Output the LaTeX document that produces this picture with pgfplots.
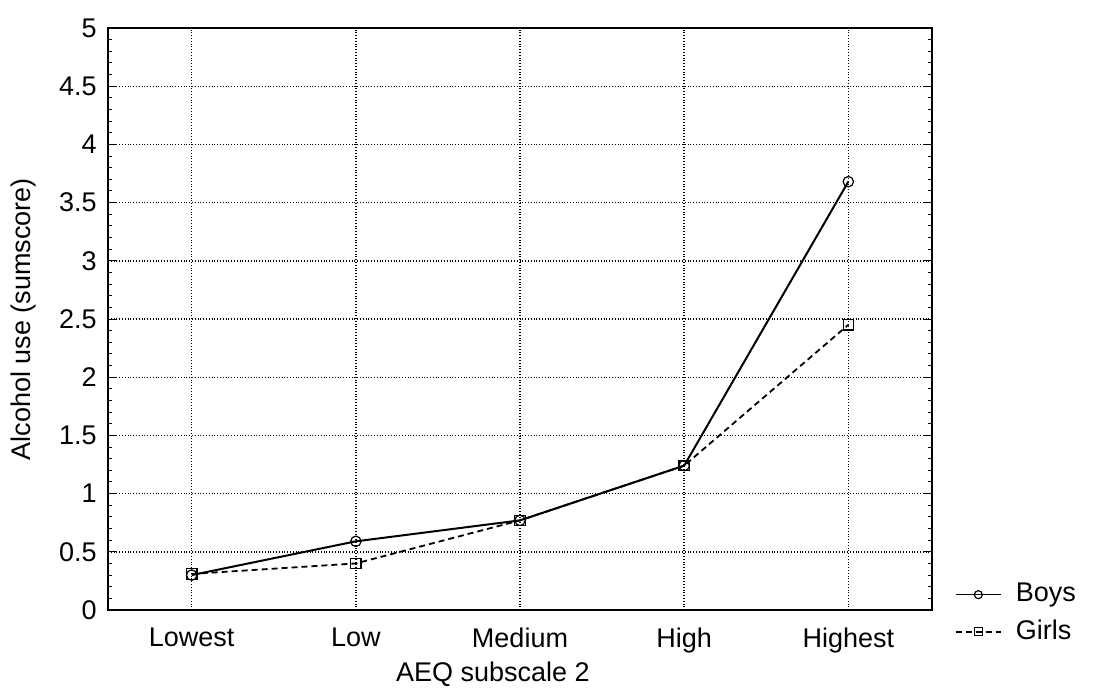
\documentclass[border=0pt]{standalone}
\usepackage{fontspec}
\setmainfont{Liberation Sans}
\usepackage{pgfplots}
\pgfplotsset{compat=1.18}
\begin{document}
\fontsize{13.5}{16}\selectfont
\begin{tikzpicture}
\useasboundingbox (-54pt,-40pt) rectangle (499.5pt,305pt);
\begin{axis}[
  at={(0,0)}, anchor=south west,
  scale only axis, width=412pt, height=291pt,
  xmin=-0.51, xmax=4.51, ymin=0, ymax=5,
  xtick={0,1,2,3,4},
  xticklabels={Lowest,Low,Medium,High,Highest},
  ytick={0,0.5,1,1.5,2,2.5,3,3.5,4,4.5,5},
  yticklabels={0,0.5,1,1.5,2,2.5,3,3.5,4,4.5,5},
  minor y tick num=4,
  tick align=inside,
  major tick length=4pt, minor tick length=2pt,
  x tick style={draw=none},
  ytick pos=both,
  grid=major,
  major grid style={densely dotted, black, line width=0.7pt},
  axis line style={line width=0.9pt},
  tick style={black, line width=0.5pt},
  /pgf/number format/assume math mode=true,
  tick label style={font=\fontsize{13.5}{16}\selectfont},
  xticklabel style={yshift=-4.5pt},
  yticklabel style={xshift=-1pt},
  label style={font=\fontsize{13.5}{16}\selectfont},
  xlabel={AEQ subscale 2},
  ylabel={Alcohol use (sumscore)},
  xlabel style={at={(axis description cs:0.467,-0.11)}, anchor=center},
  ylabel style={at={(axis description cs:-0.102,0.5)}, anchor=center},
  legend style={draw=none, fill=none, at={(axis description cs:1.02,-0.006)}, anchor=west,
    font=\fontsize{13.5}{16}\selectfont, row sep=3pt, cells={anchor=west},
    /tikz/every odd column/.append style={column sep=5pt}},
  legend cell align=left,
  legend image code/.code={
    \draw[#1, line width=0.7pt, mark repeat=2, mark phase=2, mark size=2pt] plot coordinates {(0cm,0cm) (0.4cm,0cm) (0.8cm,0cm)};
  },
]
\addplot[black, line width=1pt, mark=o, mark size=2.6pt, mark options={solid, fill=white, line width=0.6pt}]
  coordinates {(0,0.30) (1,0.59) (2,0.77) (3,1.24) (4,3.68)};
\addlegendentry{Boys}
\addplot[black, line width=0.9pt, dash pattern=on 3pt off 2pt, mark=square, mark size=2.6pt, mark options={solid, fill=white, line width=0.6pt}]
  coordinates {(0,0.31) (1,0.40) (2,0.77) (3,1.24) (4,2.45)};
\addlegendentry{Girls}
\end{axis}
\end{tikzpicture}
\end{document}
